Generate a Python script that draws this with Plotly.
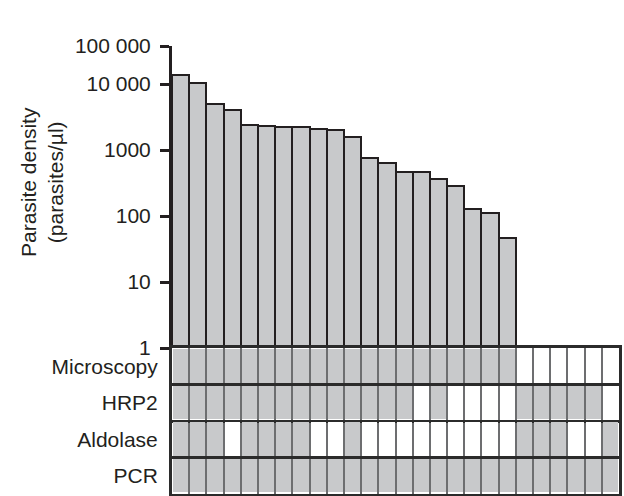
import plotly.graph_objects as go

# ---- data ----
densities = [13700, 10500, 5000, 4060, 2420, 2330, 2210, 2210, 2100, 1990,
             1560, 764, 642, 470, 470, 360, 288, 129, 111, 46]
n_samples = 26
row_labels = ["PCR", "Aldolase", "HRP2", "Microscopy"]
microscopy = [1] * 20 + [0, 0, 0, 0, 0, 0]
hrp2 = [1, 1, 1, 1, 1, 1, 1, 1, 1, 1, 1, 1, 1, 1, 0, 1, 0, 0, 0, 0, 1, 1, 1, 1, 1, 0]
aldolase = [1, 1, 1, 0, 1, 1, 1, 1, 0, 0, 1, 0, 0, 0, 0, 0, 0, 0, 0, 0, 1, 1, 1, 0, 0, 1]
pcr = [1] * 26
tick_vals = [1, 10, 100, 1000, 10000, 10 ** 4.576]
tick_text = ["1", "10", "100", "1000", "10 000", "100 000"]

dark = "#231f20"
gray = "#c8c9cb"
split = 146 / 448

fig = go.Figure()
fig.add_trace(go.Bar(
    x=list(range(len(densities))), y=densities, width=1,
    marker=dict(color=gray, line=dict(color=dark, width=2)),
    xaxis="x", yaxis="y", hoverinfo="skip"))
fig.add_trace(go.Heatmap(
    z=[pcr, aldolase, hrp2, microscopy],
    x=list(range(n_samples)), y=[0, 1, 2, 3],
    colorscale=[[0, "#ffffff"], [1, gray]], zmin=0, zmax=1,
    showscale=False, xgap=2, ygap=3, hoverinfo="skip",
    xaxis="x2", yaxis="y2"))

fig.update_layout(
    width=624, height=496,
    margin=dict(l=172, r=5, t=46, b=2, autoexpand=False),
    paper_bgcolor="white", plot_bgcolor="white",
    showlegend=False, bargap=0,
    font=dict(family="Liberation Sans, Arial, sans-serif", size=21, color=dark),
    xaxis=dict(domain=[0, 1], range=[-0.5, n_samples - 0.5], anchor="y",
               visible=False, automargin=False),
    yaxis=dict(domain=[split, 1], type="log", range=[0, 4.576], anchor="x",
               automargin=False,
               showline=True, linewidth=3, linecolor=dark,
               ticks="outside", ticklen=9, tickwidth=3, tickcolor=dark,
               tickvals=tick_vals, ticktext=tick_text,
               showgrid=False, zeroline=False, ticklabelstandoff=5),
    xaxis2=dict(domain=[0, 1], range=[-0.5, n_samples - 0.5], anchor="y2",
                automargin=False,
                showticklabels=False, ticks="", showgrid=False, zeroline=False,
                showline=True, mirror=True, linecolor="#2b2b2b", linewidth=3,
                minor=dict(tickvals=[i + 0.5 for i in range(n_samples - 1)],
                           showgrid=True, gridcolor="#6d6e70", gridwidth=2,
                           ticks="")),
    yaxis2=dict(domain=[0, split], range=[-0.5, 3.5], anchor="x2",
                automargin=False,
                tickvals=[0, 1, 2, 3], ticktext=row_labels, ticks="",
                showgrid=False, zeroline=False,
                showline=True, mirror=True, linecolor="#2b2b2b", linewidth=3,
                ticklabelstandoff=7,
                minor=dict(tickvals=[0.5, 1.5, 2.5], showgrid=True,
                           gridcolor="#2b2b2b", gridwidth=3, ticks="")),
    annotations=[dict(text="Parasite density<br>(parasites/µl)",
                      xref="paper", yref="paper",
                      x=(42 - 172) / 447, y=(494 - 182) / 448,
                      xanchor="center", yanchor="middle", textangle=-90,
                      showarrow=False, font=dict(size=21, color=dark))],
)

fig.write_html("out.html",
               config={"displayModeBar": False},
               post_script="document.body.style.margin='0';"
                           "document.body.style.padding='0';")
